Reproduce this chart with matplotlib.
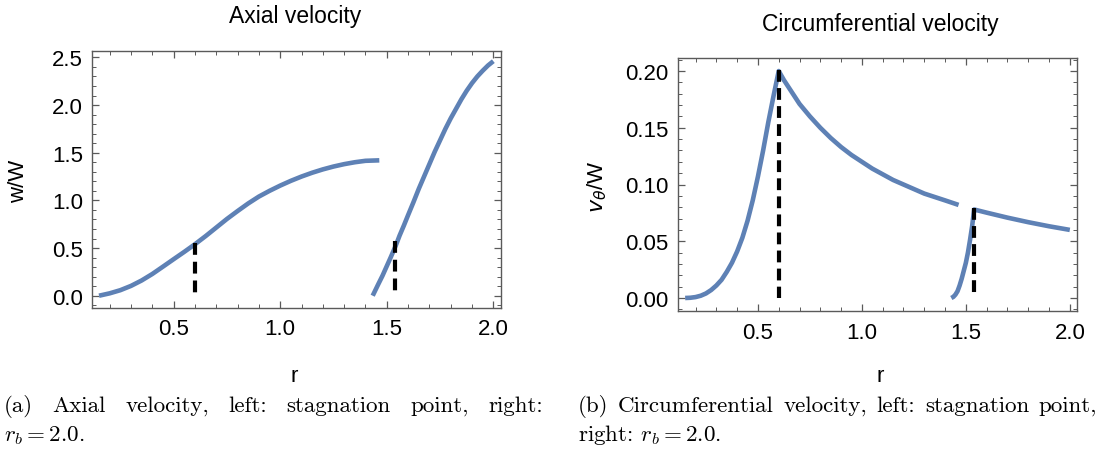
import matplotlib
matplotlib.use("Agg")
import matplotlib.pyplot as plt
from matplotlib.ticker import MultipleLocator, FormatStrFormatter

plt.rcParams['font.family'] = ['Liberation Sans', 'DejaVu Sans']
plt.rcParams['mathtext.fontset'] = 'cm'
plt.rcParams['lines.scale_dashes'] = False

# ---------------- data ----------------
# Axial velocity, left (stagnation-point) branch
r_w_left = [0.15, 0.2, 0.25, 0.3, 0.35, 0.4, 0.45, 0.5, 0.55, 0.6, 0.65, 0.7, 0.75,
            0.8, 0.85, 0.9, 0.95, 1.0, 1.05, 1.1, 1.15, 1.2, 1.25, 1.3, 1.35, 1.4, 1.465]
w_left = [0.0, 0.025, 0.058, 0.103, 0.16, 0.228, 0.305, 0.383, 0.46, 0.54, 0.625, 0.715, 0.805,
          0.888, 0.968, 1.04, 1.10, 1.155, 1.205, 1.25, 1.29, 1.325, 1.355, 1.38, 1.40, 1.415, 1.42]
# Axial velocity, right (r_b = 2.0) branch
r_w_right = [1.434, 1.46, 1.48, 1.5, 1.52, 1.542, 1.56, 1.58, 1.6, 1.625, 1.65, 1.675,
             1.7, 1.725, 1.75, 1.775, 1.8, 1.825, 1.85, 1.875, 1.9, 1.925, 1.95, 1.975, 2.0]
w_right = [0.0, 0.12, 0.21, 0.31, 0.41, 0.525, 0.63, 0.735, 0.845, 0.98, 1.12, 1.25,
           1.38, 1.51, 1.63, 1.75, 1.86, 1.96, 2.06, 2.15, 2.23, 2.30, 2.36, 2.415, 2.46]

# Circumferential velocity, left branch
r_v_left = [0.15, 0.175, 0.2, 0.225, 0.25, 0.275, 0.3, 0.325, 0.35, 0.375, 0.4, 0.425,
            0.45, 0.475, 0.5, 0.525, 0.55, 0.575, 0.6, 0.625, 0.65, 0.675, 0.7, 0.75,
            0.8, 0.85, 0.9, 0.95, 1.0, 1.05, 1.1, 1.15, 1.2, 1.25, 1.3, 1.35, 1.4, 1.465]
v_left = [0.0, 0.0002, 0.0008, 0.002, 0.004, 0.007, 0.011, 0.016, 0.023, 0.031, 0.041, 0.053,
          0.068, 0.086, 0.107, 0.130, 0.155, 0.178, 0.200, 0.192, 0.185, 0.178, 0.171, 0.160,
          0.150, 0.141, 0.133, 0.126, 0.120, 0.114, 0.109, 0.104, 0.100, 0.096, 0.092, 0.089,
          0.086, 0.082]
# Circumferential velocity, right branch
r_v_right = [1.43, 1.44, 1.45, 1.46, 1.47, 1.48, 1.49, 1.5, 1.51, 1.52, 1.53, 1.54,
             1.55, 1.6, 1.65, 1.7, 1.75, 1.8, 1.85, 1.9, 1.95, 2.0]
v_right = [0.0, 0.001, 0.003, 0.006, 0.011, 0.017, 0.024, 0.031, 0.040, 0.051, 0.063, 0.078,
           0.0775, 0.0752, 0.073, 0.0708, 0.0688, 0.0668, 0.065, 0.0632, 0.0616, 0.060]

# stagnation / marker positions (dashed lines)
stag_r = [0.6, 1.54]
stag_w = [0.55, 0.57]
stag_v = [0.201, 0.079]

x_ticks = [0.5, 1.0, 1.5, 2.0]
w_ticks = [0.0, 0.5, 1.0, 1.5, 2.0, 2.5]
v_ticks = [0.00, 0.05, 0.10, 0.15, 0.20]

titles = ["Axial velocity", "Circumferential velocity"]
ylabels = ["w/W", r"$v_\theta$/W"]
xlabel = "r"
cap_a1 = "(a) Axial velocity, left: stagnation point, right:"
cap_a2 = r"$r_b = 2.0$."
cap_b1 = "(b) Circumferential velocity, left: stagnation point,"
cap_b2 = r"right: $r_b = 2.0$."

# ---------------- style ----------------
BLUE = '#5E81B5'
FRAME = '#5a5a5a'
FS_TICK = 16
FS_TITLE = 16.5
FS_LAB = 16

W, H = 1099, 452
fig = plt.figure(figsize=(W / 100, H / 100), dpi=100)

def px_axes(l, r, t, b):
    return fig.add_axes([l / W, 1 - b / H, (r - l) / W, (b - t) / H])

axL = px_axes(92, 501, 51.7, 309.3)
axR = px_axes(678.3, 1077.3, 59.3, 311.7)

def style(ax, ymajor, yminor, fmt, ypad, xpad):
    for s in ax.spines.values():
        s.set_color(FRAME)
        s.set_linewidth(1.0)
    ax.xaxis.set_major_locator(MultipleLocator(0.5))
    ax.xaxis.set_minor_locator(MultipleLocator(0.1))
    ax.yaxis.set_major_locator(MultipleLocator(ymajor))
    ax.yaxis.set_minor_locator(MultipleLocator(yminor))
    ax.tick_params(which='both', direction='in', top=True, right=True, color=FRAME,
                   labelsize=FS_TICK, labelcolor='black')
    ax.tick_params(which='major', length=5, width=0.9)
    ax.tick_params(which='minor', length=2.8, width=0.7)
    ax.tick_params(axis='y', which='major', pad=ypad)
    ax.tick_params(axis='x', which='major', pad=xpad)
    ax.yaxis.set_major_formatter(FormatStrFormatter(fmt))
    ax.xaxis.set_major_formatter(FormatStrFormatter('%.1f'))

# left panel
axL.plot(r_w_left, w_left, color=BLUE, lw=3.3, solid_capstyle='butt')
axL.plot(r_w_right, w_right, color=BLUE, lw=3.3, solid_capstyle='butt')
for r0, w0 in zip(stag_r, stag_w):
    axL.plot([r0, r0], [w0, 0.0], color='black', lw=3.0, ls=(0, (8.5, 5.0)))
axL.set_xlim(0.117, 2.036)
axL.set_ylim(-0.132, 2.57)
axL.set_xticks(x_ticks)
axL.set_yticks(w_ticks)
style(axL, 0.5, 0.1, '%.1f', 6.5, 7.0)

# right panel
axR.plot(r_v_left, v_left, color=BLUE, lw=3.3, solid_capstyle='butt')
axR.plot(r_v_right, v_right, color=BLUE, lw=3.3, solid_capstyle='butt')
for r0, v0 in zip(stag_r, stag_v):
    axR.plot([r0, r0], [v0, 0.0], color='black', lw=3.0, ls=(0, (8.5, 4.5)))
axR.set_xlim(0.117, 2.036)
axR.set_ylim(-0.0112, 0.2112)
axR.set_xticks(x_ticks)
axR.set_yticks(v_ticks)
style(axR, 0.05, 0.01, '%.2f', 7.2, 8.0)

# titles and axis labels
fig.text(295 / W, 1 - 17 / H, titles[0], ha='center', va='center', fontsize=FS_TITLE)
fig.text(880 / W, 1 - 25 / H, titles[1], ha='center', va='center', fontsize=FS_TITLE)
fig.text(19 / W, 1 - 181 / H, ylabels[0], rotation=90, ha='center', va='center',
         fontsize=FS_LAB)
fig.text(597 / W, 1 - 187 / H, ylabels[1], rotation=90, ha='center', va='center',
         fontsize=FS_LAB, math_fontfamily='dejavusans')
fig.text(294 / W, 1 - 377 / H, xlabel, ha='center', va='center', fontsize=FS_LAB)
fig.text(880 / W, 1 - 377 / H, xlabel, ha='center', va='center', fontsize=FS_LAB)

# captions (serif, first lines justified)
fig.canvas.draw()
renderer = fig.canvas.get_renderer()
probe = fig.text(0, 0, cap_b1, family=['cmr10', 'DejaVu Serif'], fontsize=10)
pw = probe.get_window_extent(renderer).width
probe.remove()
CAP_FS = 10 * 512 / pw
cap_font = dict(family=['cmr10', 'DejaVu Serif'], fontsize=CAP_FS)

def justify(line, x0, x1, y):
    words = line.split()
    texts = [fig.text(0, 1 - y / H, w, ha='left', va='baseline', **cap_font) for w in words]
    widths = [t.get_window_extent(renderer).width for t in texts]
    gap = (x1 - x0 - sum(widths)) / (len(words) - 1)
    x = x0
    for t, wdt in zip(texts, widths):
        t.set_x(x / W)
        x += wdt + gap

justify(cap_a1, 4, 543, 412)
fig.text(4 / W, 1 - 441 / H, cap_a2, ha='left', va='baseline', **cap_font)
justify(cap_b1, 578, 1097, 412)
fig.text(578 / W, 1 - 441 / H, cap_b2, ha='left', va='baseline', **cap_font)

fig.savefig("out.png", dpi=100)
